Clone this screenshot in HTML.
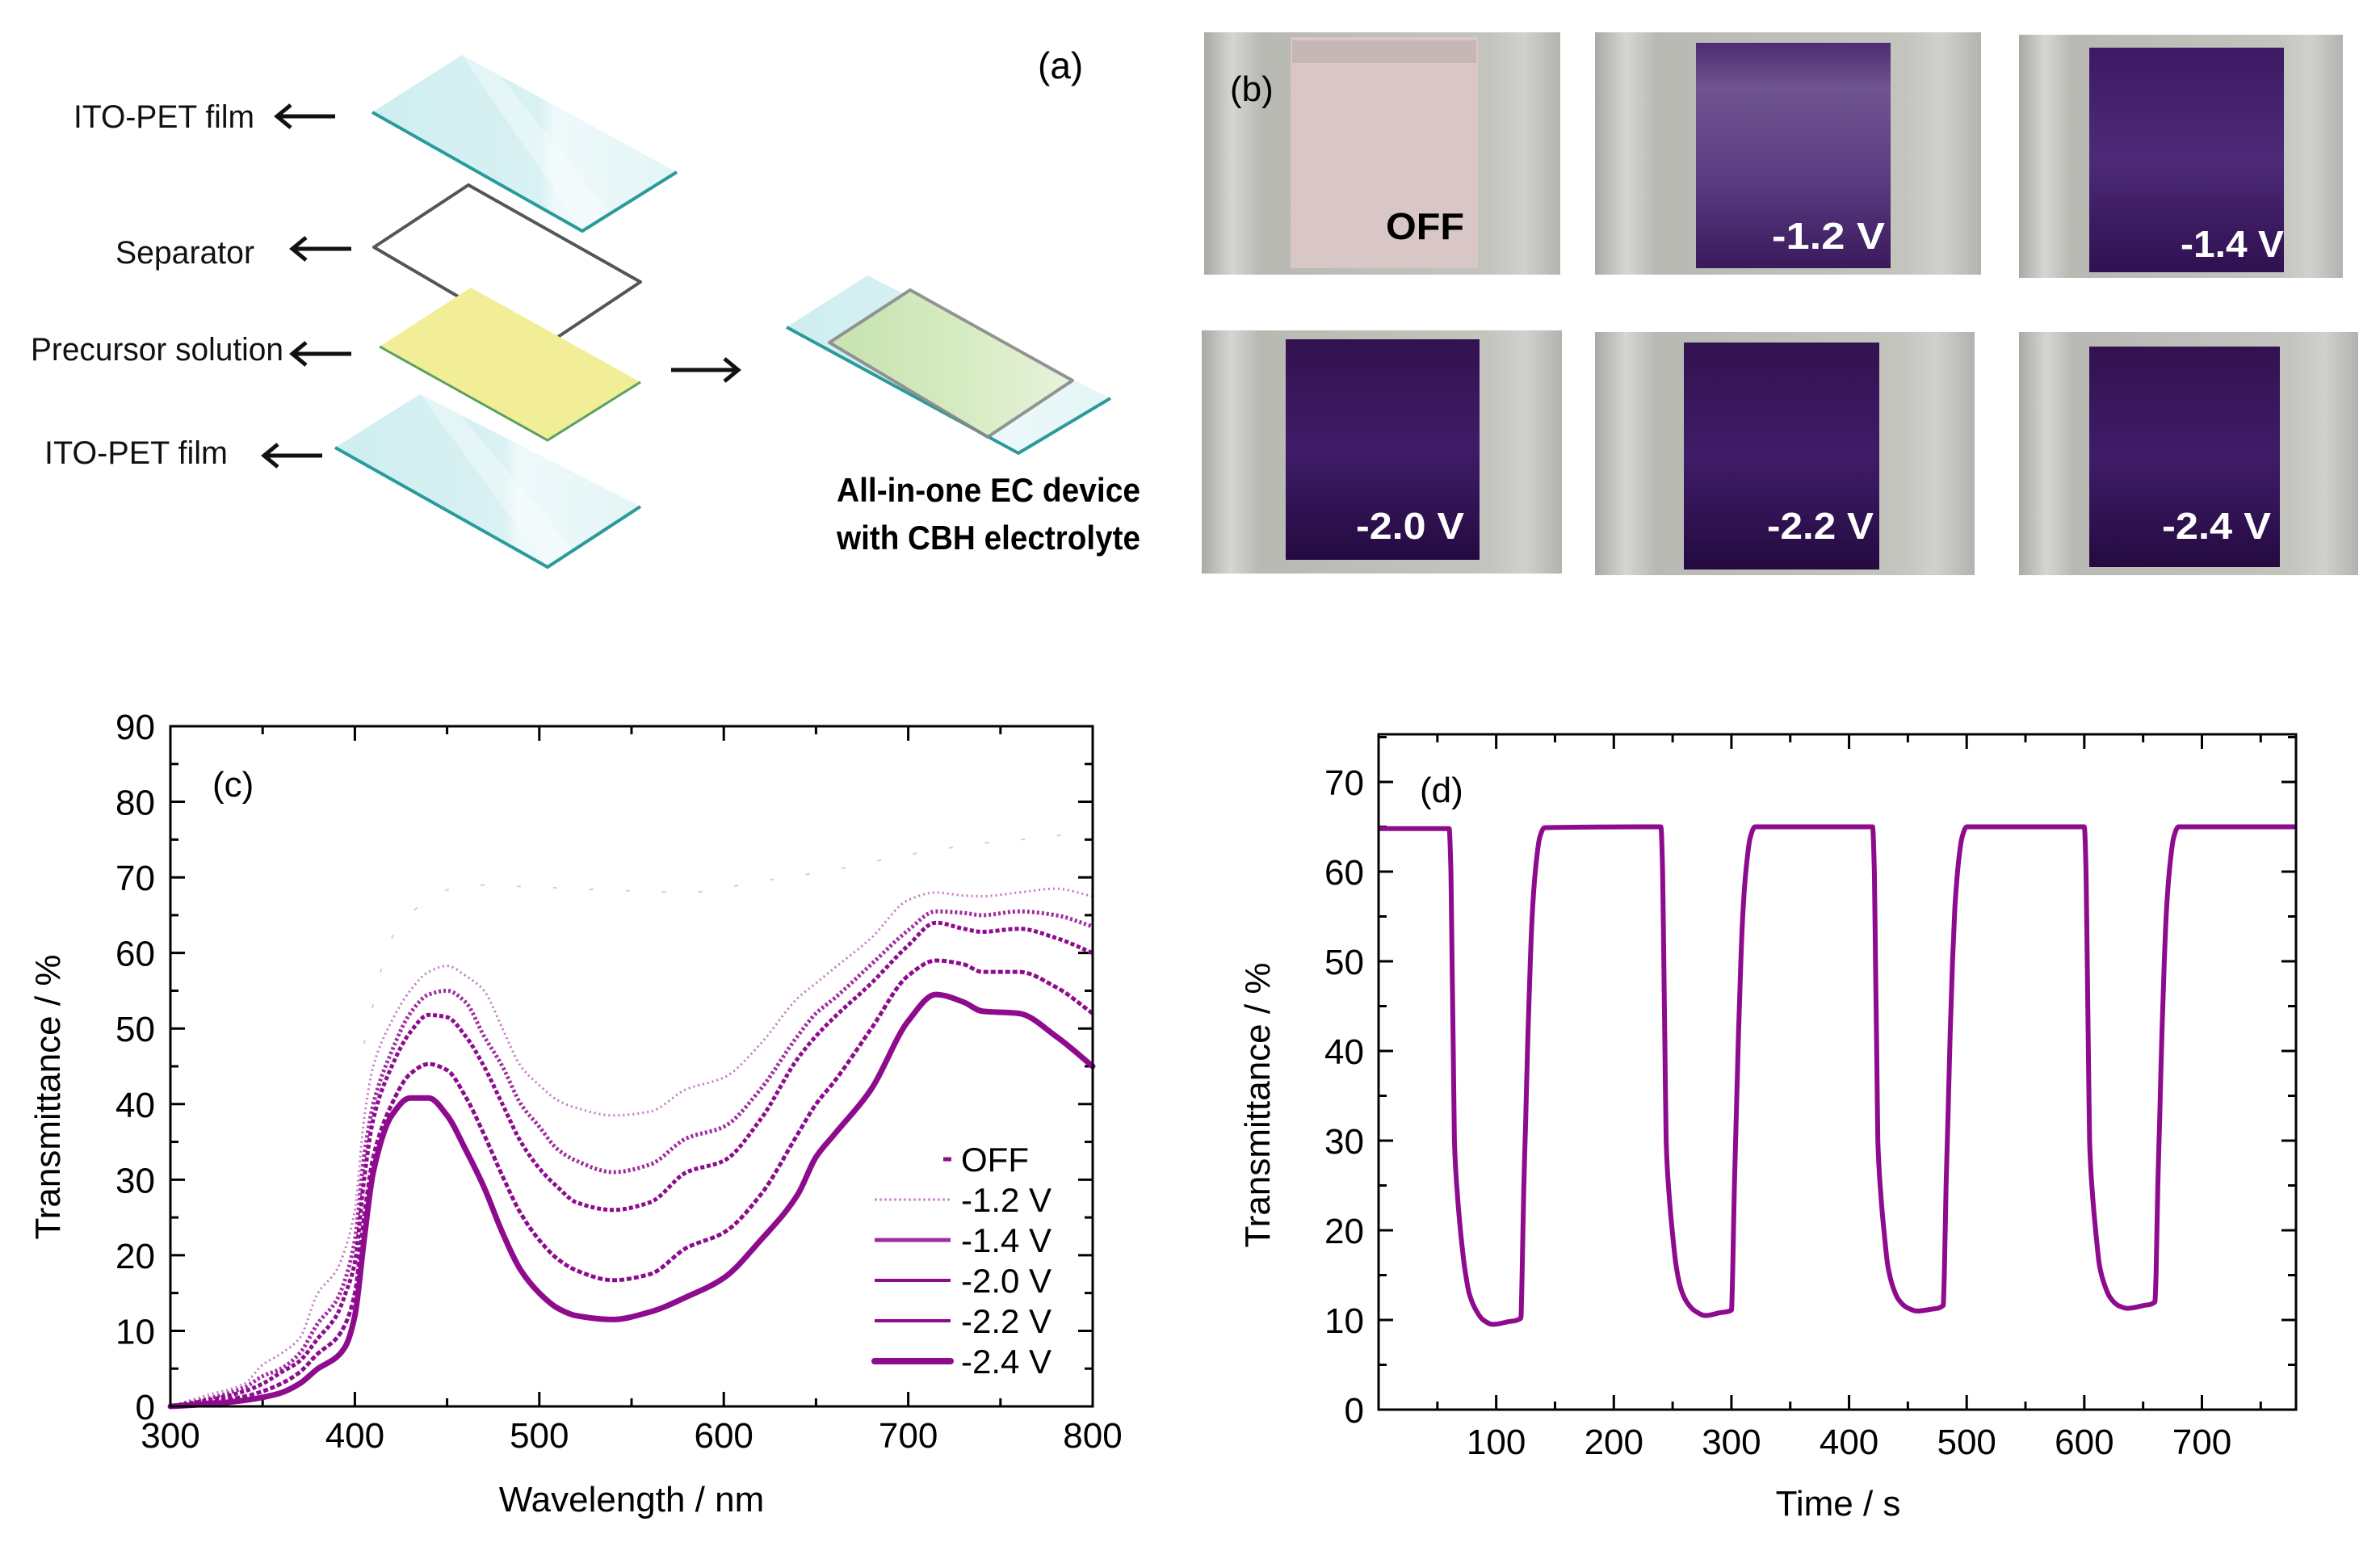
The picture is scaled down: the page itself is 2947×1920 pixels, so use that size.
<!DOCTYPE html>
<html><head><meta charset="utf-8"><title>EC device figure</title>
<style>
html,body{margin:0;padding:0;background:#fff;}
svg{display:block;font-family:"Liberation Sans",Arial,sans-serif;}
</style></head>
<body>
<svg id="fig" width="2947" height="1920" viewBox="0 0 2947 1920" xmlns="http://www.w3.org/2000/svg">
<defs>
<linearGradient id="glass" x1="0" y1="0" x2="1" y2="0">
<stop offset="0" stop-color="#cfeef0"/><stop offset="0.55" stop-color="#d9f1f3"/><stop offset="0.6" stop-color="#eef9fa"/><stop offset="1" stop-color="#e4f5f6"/></linearGradient>
<linearGradient id="green" x1="0" y1="0" x2="1" y2="0">
<stop offset="0" stop-color="#c6e2a8"/><stop offset="0.6" stop-color="#d7ecbf"/><stop offset="1" stop-color="#e8f3da"/></linearGradient>
<linearGradient id="bg" x1="0" y1="0" x2="1" y2="0">
<stop offset="0" stop-color="#a9a9a6"/><stop offset="0.08" stop-color="#d5d5d2"/><stop offset="0.16" stop-color="#b9b9b4"/><stop offset="0.8" stop-color="#c4c4bf"/><stop offset="0.9" stop-color="#d0d0cc"/><stop offset="1" stop-color="#b2b2ae"/></linearGradient>
<linearGradient id="p12" x1="0" y1="0" x2="0" y2="1">
<stop offset="0" stop-color="#4e2c72"/><stop offset="0.2" stop-color="#6f5490"/><stop offset="0.6" stop-color="#5b3c82"/><stop offset="1" stop-color="#3a1a5c"/></linearGradient>
<linearGradient id="p14" x1="0" y1="0" x2="0" y2="1">
<stop offset="0" stop-color="#3e1a64"/><stop offset="0.5" stop-color="#4d2a78"/><stop offset="1" stop-color="#2f1050"/></linearGradient>
<linearGradient id="pdark" x1="0" y1="0" x2="0" y2="1">
<stop offset="0" stop-color="#321250"/><stop offset="0.5" stop-color="#3f1c68"/><stop offset="1" stop-color="#240a40"/></linearGradient>
</defs>

<!-- Panel (a) -->
<g>
<text x="1285" y="97" font-size="46">(a)</text>
<g font-size="40" fill="#111">
<text x="91" y="158" textLength="224" lengthAdjust="spacingAndGlyphs">ITO-PET film</text>
<text x="143" y="326" textLength="172" lengthAdjust="spacingAndGlyphs">Separator</text>
<text x="38" y="446" textLength="313" lengthAdjust="spacingAndGlyphs">Precursor solution</text>
<text x="55" y="574" textLength="227" lengthAdjust="spacingAndGlyphs">ITO-PET film</text>
</g>
<g stroke="#111" stroke-width="5" fill="none">
<path d="M415 144H343M360 130L343 144L360 158"/>
<path d="M435 308H362M379 294L362 308L379 322"/>
<path d="M435 438H362M379 424L362 438L379 452"/>
<path d="M399 564H327M344 550L327 564L344 578"/>
<path d="M831 458H912M897 444L914 458L897 472"/>
</g>
<polygon points="461,139 572,68 838,213 721,286" fill="url(#glass)"/>
<polygon points="572,68 620,94 760,270 721,286" fill="#ffffff" opacity="0.35"/>
<polyline points="461,139 721,286 838,213" fill="none" stroke="#2a9a9a" stroke-width="4"/>
<polygon points="463,306 580,229 793,349 673,429" fill="none" stroke="#555" stroke-width="4" stroke-linejoin="round"/>
<polygon points="470,429 583,356 793,473 678,545" fill="#f2ee98"/>
<polyline points="470,429 678,545 793,473" fill="none" stroke="#5aa060" stroke-width="3"/>
<polygon points="415,554 520,488 793,627 678,702" fill="url(#glass)"/>
<polygon points="520,488 570,514 715,686 678,702" fill="#ffffff" opacity="0.35"/>
<polyline points="415,554 678,702 793,627" fill="none" stroke="#2a9a9a" stroke-width="4"/>
<g>
<polygon points="974,405 1074,341 1375,493 1261,561" fill="url(#glass)"/>
<polyline points="974,405 1261,561 1375,493" fill="none" stroke="#2a9a9a" stroke-width="4"/>
<polygon points="1027,424 1127,359 1328,471 1223,541" fill="url(#green)" stroke="#888" stroke-width="4" stroke-linejoin="round" opacity="0.9"/>
</g>
<text x="1036" y="621" font-size="42" font-weight="bold" textLength="376" lengthAdjust="spacingAndGlyphs">All-in-one EC device</text>
<text x="1036" y="680" font-size="42" font-weight="bold" textLength="376" lengthAdjust="spacingAndGlyphs">with CBH electrolyte</text>
</g>

<!-- Panel (b) -->
<g>
<g>
<rect x="1491" y="40" width="441" height="300" fill="url(#bg)"/>
<rect x="1598" y="46" width="232" height="286" fill="#d9c6c6"/>
<rect x="1600" y="50" width="228" height="28" fill="#c7b6b6"/>
<text x="1716" y="296" font-size="46" font-weight="bold" fill="#000" textLength="97" lengthAdjust="spacingAndGlyphs">OFF</text>
</g>
<text x="1523" y="125" font-size="44">(b)</text>
<g>
<rect x="1975" y="40" width="478" height="300" fill="url(#bg)"/>
<rect x="2100" y="53" width="241" height="279" fill="url(#p12)"/>
<text x="2194" y="308" font-size="46" font-weight="bold" fill="#fff" textLength="140" lengthAdjust="spacingAndGlyphs">-1.2 V</text>
</g>
<g>
<rect x="2500" y="43" width="401" height="301" fill="url(#bg)"/>
<rect x="2587" y="59" width="241" height="278" fill="url(#p14)"/>
<text x="2700" y="318" font-size="46" font-weight="bold" fill="#fff" textLength="128" lengthAdjust="spacingAndGlyphs">-1.4 V</text>
</g>
<g>
<rect x="1488" y="409" width="446" height="301" fill="url(#bg)"/>
<rect x="1592" y="420" width="240" height="273" fill="url(#pdark)"/>
<text x="1679" y="667" font-size="46" font-weight="bold" fill="#fff" textLength="134" lengthAdjust="spacingAndGlyphs">-2.0 V</text>
</g>
<g>
<rect x="1975" y="411" width="470" height="301" fill="url(#bg)"/>
<rect x="2085" y="424" width="242" height="281" fill="url(#pdark)"/>
<text x="2188" y="667" font-size="46" font-weight="bold" fill="#fff" textLength="132" lengthAdjust="spacingAndGlyphs">-2.2 V</text>
</g>
<g>
<rect x="2500" y="411" width="420" height="301" fill="url(#bg)"/>
<rect x="2587" y="429" width="236" height="273" fill="url(#pdark)"/>
<text x="2677" y="667" font-size="46" font-weight="bold" fill="#fff" textLength="135" lengthAdjust="spacingAndGlyphs">-2.4 V</text>
</g>
</g>

<g id="chartC"></g>
<g id="chartD"></g>
</svg>

<script>
// ---------- Chart (c) data ----------
const cWavelengths = [300,320,340,350,360,370,380,390,395,400,405,410,420,430,440,450,460,470,480,490,500,510,520,540,560,580,600,620,640,650,660,680,700,715,730,740,760,780,800];
const cMinus12 = [0,1.5,3,5.5,7,9,15,18,21,26,38,45,51,55,57.5,58.3,57,55,50,45,42.5,40.5,39.5,38.5,39,42,43.5,48,54,56,58,62,67,68,67.6,67.5,68,68.5,67.5];
const cMinus14 = [0,1,2.5,4,5,7,11,14,17,22,33,40,47,52,54.5,55,53.5,49,45,40,37,34,32.5,31,32,35.5,37,42,49,52,54,58.5,63,65.5,65.3,65,65.5,65,63.5];
const cMinus20 = [0,0.8,2,3,4.5,6,9,12,15,19,30,38,45,49.5,51.8,51.5,49,45,40,35,31.5,29,27,26,27,31,32.5,38,46,49,51.5,56,61,64,63.2,62.8,63.2,62,60];
const cMinus22 = [0,0.5,1.3,2,3,4.5,7,9,11,15,25,33,40,44,45.3,44.5,41,36,30.5,25.5,22,19.5,18,16.7,17.5,21,23,28,36,40,43,50,57,59,58.5,57.5,57.5,55.5,52];
const cMinus24 = [0,0.3,0.8,1.2,1.8,3,5,6.5,8,12,22,31,38.5,40.8,40.8,38.5,34,29,23,18,15,13,12,11.5,12.5,14.5,17,22,28,33,36,42,51,54.5,53.5,52.3,52,49,45];
const cOffWavelengths = [405,420,440,460,500,540,580,620,660,700,740,780,800];
const cOff = [48,62,67,69,68.7,68.3,68,69.5,71,73,74.5,75.5,76.5];
const cYTicks = [0,10,20,30,40,50,60,70,80,90];
const cXTicks = [300,400,500,600,700,800];
const cLegendLabels = ["OFF","-1.2 V","-1.4 V","-2.0 V","-2.2 V","-2.4 V"];

// ---------- Chart (d) data ----------
const dTime = [0,60,61.5,62.5,63.5,64.5,67,70,73,77,82,89,97,110,121,122,123.5,125,127,129,131,134,137,141,
240,241.5,242.5,243.5,244.5,247,250,253,257,262,269,278,290,300,301,302.5,304,306,308,310,313,316,320,
420,421.5,422.5,423.5,424.5,427,430,433,437,442,449,458,470,480,481,482.5,484,486,488,490,493,496,500,
600,601.5,602.5,603.5,604.5,607,610,613,617,622,629,637,650,660,661,662.5,664,666,668,670,673,676,680,780];
const dTrans = [64.8,64.8,60,50,40,30,24,19.5,16,13,11.3,10,9.5,9.8,10.2,15,25,32,42,50,56,61,63.8,64.9,
65,60,50,40,30,24,19.5,16,13.5,12,11,10.5,10.8,11.1,15,25,32,42,50,56,61,63.8,65,
65,60,50,40,30,24,19.5,16,13.8,12.3,11.4,11,11.2,11.6,15,25,32,42,50,56,61,63.8,65,
65,60,50,40,30,24,19.5,16,14,12.5,11.6,11.3,11.6,12,15,25,32,42,50,56,61,63.8,65,65];
const dYTicks = [0,10,20,30,40,50,60,70];
const dXTicks = [100,200,300,400,500,600,700];

const NS = "http://www.w3.org/2000/svg";
function mk(parent, tag, attrs, text) {
  const el = document.createElementNS(NS, tag);
  for (const k in attrs) el.setAttribute(k, attrs[k]);
  if (text !== undefined) el.textContent = text;
  parent.appendChild(el);
  return el;
}
// Monotone cubic (Fritsch-Carlson) path through screen points with increasing x
function smooth(P) {
  const n = P.length;
  const dx = [], m = [], t = [];
  for (let i = 0; i < n - 1; i++) {
    dx[i] = P[i + 1][0] - P[i][0];
    m[i] = (P[i + 1][1] - P[i][1]) / dx[i];
  }
  t[0] = m[0]; t[n - 1] = m[n - 2];
  for (let i = 1; i < n - 1; i++) {
    if (m[i - 1] * m[i] <= 0) t[i] = 0;
    else {
      const w1 = 2 * dx[i] + dx[i - 1], w2 = dx[i] + 2 * dx[i - 1];
      t[i] = (w1 + w2) / (w1 / m[i - 1] + w2 / m[i]);
    }
  }
  let d = "M" + P[0][0].toFixed(1) + "," + P[0][1].toFixed(1);
  for (let i = 0; i < n - 1; i++) {
    const h = dx[i] / 3;
    d += " C" + (P[i][0] + h).toFixed(1) + "," + (P[i][1] + t[i] * h).toFixed(1) + " " +
         (P[i + 1][0] - h).toFixed(1) + "," + (P[i + 1][1] - t[i + 1] * h).toFixed(1) + " " +
         P[i + 1][0].toFixed(1) + "," + P[i + 1][1].toFixed(1);
  }
  return d;
}

// ---------- Draw chart (c) ----------
(function () {
  const g = document.getElementById("chartC");
  const L = 211, R = 1353, T = 899, B = 1741;
  const xMin = 300, xMax = 800, yMin = 0, yMax = 90;
  const sx = v => L + (v - xMin) / (xMax - xMin) * (R - L);
  const sy = v => B - (v - yMin) / (yMax - yMin) * (B - T);
  const path = (xs, ys) => smooth(xs.map((x, i) => [sx(x), sy(ys[i])]));

  for (let v = 0; v <= 90; v += 5) {
    const major = v % 10 === 0, len = major ? 18 : 10, y = sy(v);
    let t = mk(g, "line", {x1: L, x2: L + len, y1: y, y2: y, stroke: "#000", "stroke-width": 3});
    
    
    t = mk(g, "line", {x1: R, x2: R - len, y1: y, y2: y, stroke: "#000", "stroke-width": 3});
    
    
  }
  for (let v = 300; v <= 800; v += 50) {
    const major = v % 100 === 0, len = major ? 18 : 10, x = sx(v);
    let t = mk(g, "line", {x1: x, x2: x, y1: B, y2: B - len, stroke: "#000", "stroke-width": 3});
    
    
    t = mk(g, "line", {x1: x, x2: x, y1: T, y2: T + len, stroke: "#000", "stroke-width": 3});
    
    
  }
  cYTicks.forEach(v => {
    const t = mk(g, "text", {x: 192, y: sy(v) + 16, "font-size": 44, "text-anchor": "end"}, String(v));
    
    
  });
  cXTicks.forEach(v => {
    const t = mk(g, "text", {x: sx(v), y: 1792, "font-size": 44, "text-anchor": "middle"}, String(v));
    
    
  });
  let t = mk(g, "text", {x: 782, y: 1871, "font-size": 44, "text-anchor": "middle"}, "Wavelength / nm");
  
  
  t = mk(g, "text", {x: 0, y: 0, "font-size": 44, "text-anchor": "middle", transform: "translate(74,1358) rotate(-90)"}, "Transmittance / %");
  
  
  t = mk(g, "text", {x: 263, y: 986, "font-size": 44}, "(c)");
  
  

  const col = "#8e0b8e";
  let s = mk(g, "path", {d: path(cOffWavelengths, cOff), fill: "none", stroke: "#d9a6d9", "stroke-width": 2, "stroke-dasharray": "5 40", opacity: 0.7});
  
  
  s = mk(g, "path", {d: path(cWavelengths, cMinus12), fill: "none", stroke: "#c477c4", "stroke-width": 3, "stroke-dasharray": "2 4"});
  
  
  s = mk(g, "path", {d: path(cWavelengths, cMinus14), fill: "none", stroke: "#a02ca0", "stroke-width": 5, "stroke-dasharray": "3 3"});
  
  
  s = mk(g, "path", {d: path(cWavelengths, cMinus20), fill: "none", stroke: col, "stroke-width": 5, "stroke-dasharray": "5 3"});
  
  
  s = mk(g, "path", {d: path(cWavelengths, cMinus22), fill: "none", stroke: col, "stroke-width": 5, "stroke-dasharray": "6 3"});
  
  
  s = mk(g, "path", {d: path(cWavelengths, cMinus24), fill: "none", stroke: col, "stroke-width": 7, "stroke-linejoin": "round", "stroke-linecap": "round"});
  
  

  const ly = [1435, 1485, 1535, 1585, 1635, 1685];
  const lstyles = [
    {stroke: col, "stroke-width": 5},
    {stroke: "#d08ad0", "stroke-width": 3, "stroke-dasharray": "3 3"},
    {stroke: "#a02ca0", "stroke-width": 5},
    {stroke: col, "stroke-width": 4},
    {stroke: col, "stroke-width": 4},
    {stroke: col, "stroke-width": 8, "stroke-linecap": "round"}
  ];
  cLegendLabels.forEach((lab, i) => {
    const x1 = i === 0 ? 1168 : 1083, x2 = i === 0 ? 1178 : 1177;
    const ln = mk(g, "line", Object.assign({x1: x1, x2: x2, y1: ly[i], y2: ly[i]}, lstyles[i]));
    
    
    const tx = mk(g, "text", {x: 1190, y: ly[i] + 15, "font-size": 42}, lab);
    
    
  });

  const fr = mk(g, "rect", {x: L, y: T, width: R - L, height: B - T, fill: "none", stroke: "#000", "stroke-width": 3});
  
  
})();

// ---------- Draw chart (d) ----------
(function () {
  const g = document.getElementById("chartD");
  const L = 1707, R = 2843, T = 909, B = 1745;
  const xMin = 0, xMax = 780, yPerUnit = 11.1;
  const sx = v => L + (v - xMin) / (xMax - xMin) * (R - L);
  const sy = v => B - v * yPerUnit;

  for (let v = 0; v <= 75; v += 5) {
    const major = v % 10 === 0, len = major ? 18 : 10, y = sy(v);
    let t = mk(g, "line", {x1: L, x2: L + len, y1: y, y2: y, stroke: "#000", "stroke-width": 3});
    
    
    t = mk(g, "line", {x1: R, x2: R - len, y1: y, y2: y, stroke: "#000", "stroke-width": 3});
    
    
  }
  for (let v = 50; v <= 750; v += 50) {
    const major = v % 100 === 0, len = major ? 18 : 10, x = sx(v);
    let t = mk(g, "line", {x1: x, x2: x, y1: B, y2: B - len, stroke: "#000", "stroke-width": 3});
    
    
    t = mk(g, "line", {x1: x, x2: x, y1: T, y2: T + len, stroke: "#000", "stroke-width": 3});
    
    
  }
  dYTicks.forEach(v => {
    const t = mk(g, "text", {x: 1689, y: sy(v) + 16, "font-size": 44, "text-anchor": "end"}, String(v));
    
    
  });
  dXTicks.forEach(v => {
    const t = mk(g, "text", {x: sx(v), y: 1800, "font-size": 44, "text-anchor": "middle"}, String(v));
    
    
  });
  let t = mk(g, "text", {x: 2276, y: 1876, "font-size": 44, "text-anchor": "middle"}, "Time / s");
  
  
  t = mk(g, "text", {x: 0, y: 0, "font-size": 44, "text-anchor": "middle", transform: "translate(1572,1368) rotate(-90)"}, "Transmittance / %");
  
  
  t = mk(g, "text", {x: 1758, y: 993, "font-size": 44}, "(d)");
  
  

  const d = smooth(dTime.map((x, i) => [sx(x), sy(dTrans[i])]));
  const s = mk(g, "path", {d: d, fill: "none", stroke: "#8e0b8e", "stroke-width": 6, "stroke-linejoin": "round"});
  
  

  const fr = mk(g, "rect", {x: L, y: T, width: R - L, height: B - T, fill: "none", stroke: "#000", "stroke-width": 3});
  
  
})();
</script>
</body></html>
